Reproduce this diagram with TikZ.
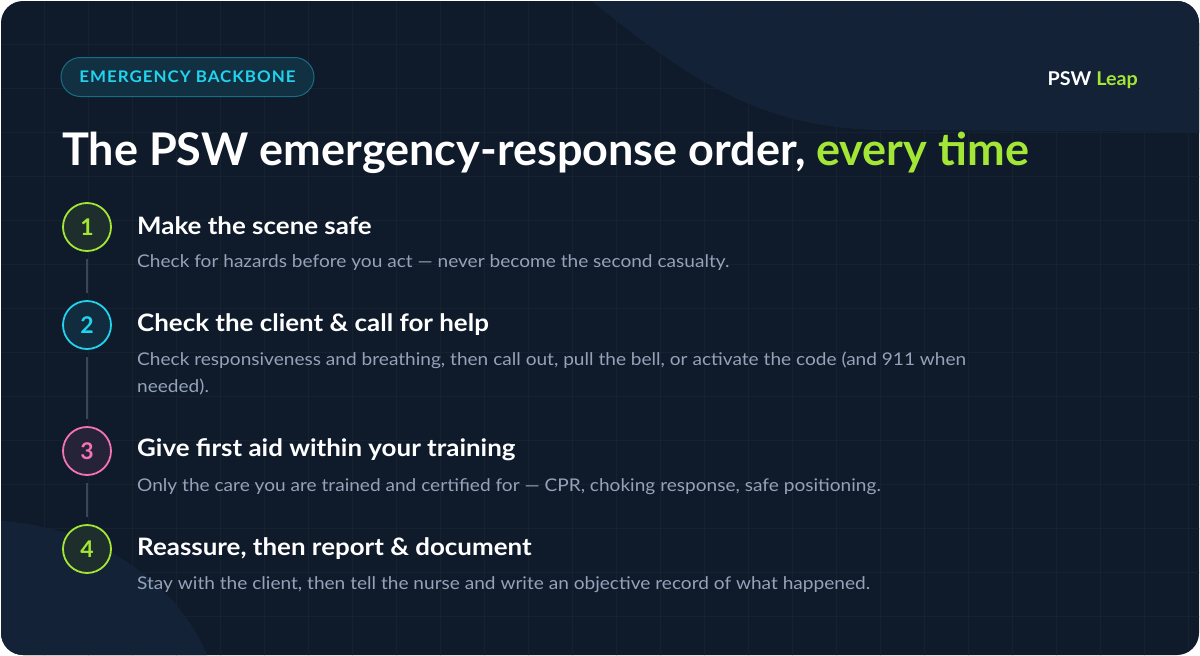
\documentclass[tikz,border=0pt]{standalone}
\usepackage{fontspec}
\setmainfont{Lato}
\usetikzlibrary{positioning}

\definecolor{cardbg}{HTML}{0F1A2B}
\definecolor{blobbg}{HTML}{132236}
\definecolor{gridc}{HTML}{16222F}
\definecolor{lime}{HTML}{A3E635}
\definecolor{cyanc}{HTML}{22D3EE}
\definecolor{pinkc}{HTML}{F472B6}
\definecolor{mutedtext}{HTML}{94A3B8}
\definecolor{stemc}{HTML}{3A4657}

\begin{document}
\begin{tikzpicture}[
    x=1pt, y=-1pt,
    pill/.style={
        draw=cyanc!45!cardbg,
        fill=cyanc!12!cardbg,
        line width=1pt,
        rounded corners=19.5pt,
        minimum width=253pt,
        minimum height=39pt,
        text=cyanc,
        font=\fontsize{16}{19}\selectfont\bfseries\addfontfeature{LetterSpace=6,FakeStretch=1.06}
    },
    stepnum/.style={
        circle,
        draw=#1,
        fill=#1!10!cardbg,
        line width=1.8pt,
        minimum size=48pt,
        inner sep=0pt,
        text=#1,
        font=\fontsize{23}{24}\selectfont\bfseries
    },
    stephead/.style={
        anchor=base west,
        inner sep=0pt,
        text=white,
        font=\fontsize{24}{28}\selectfont\bfseries\addfontfeature{FakeStretch=1.08}
    },
    stepdesc/.style={
        anchor=base west,
        inner sep=0pt,
        align=left,
        text=mutedtext,
        font=\fontsize{17.5}{27}\selectfont\addfontfeature{FakeStretch=1.09}
    },
    stem/.style={draw=stemc, line width=1.2pt, shorten <=7.5pt, shorten >=7.5pt}
]
    \useasboundingbox (0,0) rectangle (1200,656);
    \fill[white] (0,0) rectangle (1200,656);

    % card with backdrop
    \begin{scope}
        \clip[rounded corners=22pt] (1,1) rectangle (1199,655);
        \fill[cardbg] (0,0) rectangle (1200,656);
        \fill[blobbg] (590,0) .. controls (690,80) and (760,128) .. (880,130)
            -- (1200,132) -- (1200,0) -- cycle;
        \fill[blobbg] (-20,720) ellipse [x radius=240, y radius=200];
        \draw[gridc, line width=0.6pt, step=44pt] (0,0) grid (1200,656);
    \end{scope}

    % header
    \node[pill] (tag) at (187.5,77) {EMERGENCY BACKBONE};
    \node[anchor=base east, inner sep=0pt, text=white,
          font=\fontsize{19}{22}\selectfont\bfseries\addfontfeature{FakeStretch=1.04}] (brand) at (1138,85)
        {PSW \textcolor{lime}{Leap}};
    \node[anchor=base west, inner sep=0pt, text=white,
          font=\fontsize{45}{54}\selectfont\bfseries] (title) at (62,165.7)
        {The PSW emergency-response order, \textcolor{lime}{every time}};

    % steps
    \node[stepnum=lime]  (s1) at (87,227) {1};
    \node[stepnum=cyanc] (s2) at (87,325) {2};
    \node[stepnum=pinkc] (s3) at (87,451) {3};
    \node[stepnum=lime]  (s4) at (87,549) {4};

    \draw[stem] (s1) -- (s2);
    \draw[stem] (s2) -- (s3);
    \draw[stem] (s3) -- (s4);

    \node[stephead] (h1) at (137,234) {Make the scene safe};
    \node[stepdesc] (d1) at (137,267.3)
        {Check for hazards before you act — never become the second casualty.};

    \node[stephead] (h2) at (137,331.7) {Check the client \& call for help};
    % base anchor sits on the last line here
    \node[stepdesc] (d2) at (137,392.5)
        {Check responsiveness and breathing, then call out, pull the bell, or activate the code (and 911 when\\needed).};

    \node[stephead] (h3) at (137,456) {Give first aid within your training};
    \node[stepdesc] (d3) at (137,491)
        {Only the care you are trained and certified for — CPR, choking response, safe positioning.};

    \node[stephead] (h4) at (137,555) {Reassure, then report \& document};
    \node[stepdesc] (d4) at (137,589)
        {Stay with the client, then tell the nurse and write an objective record of what happened.};

\end{tikzpicture}
\end{document}
